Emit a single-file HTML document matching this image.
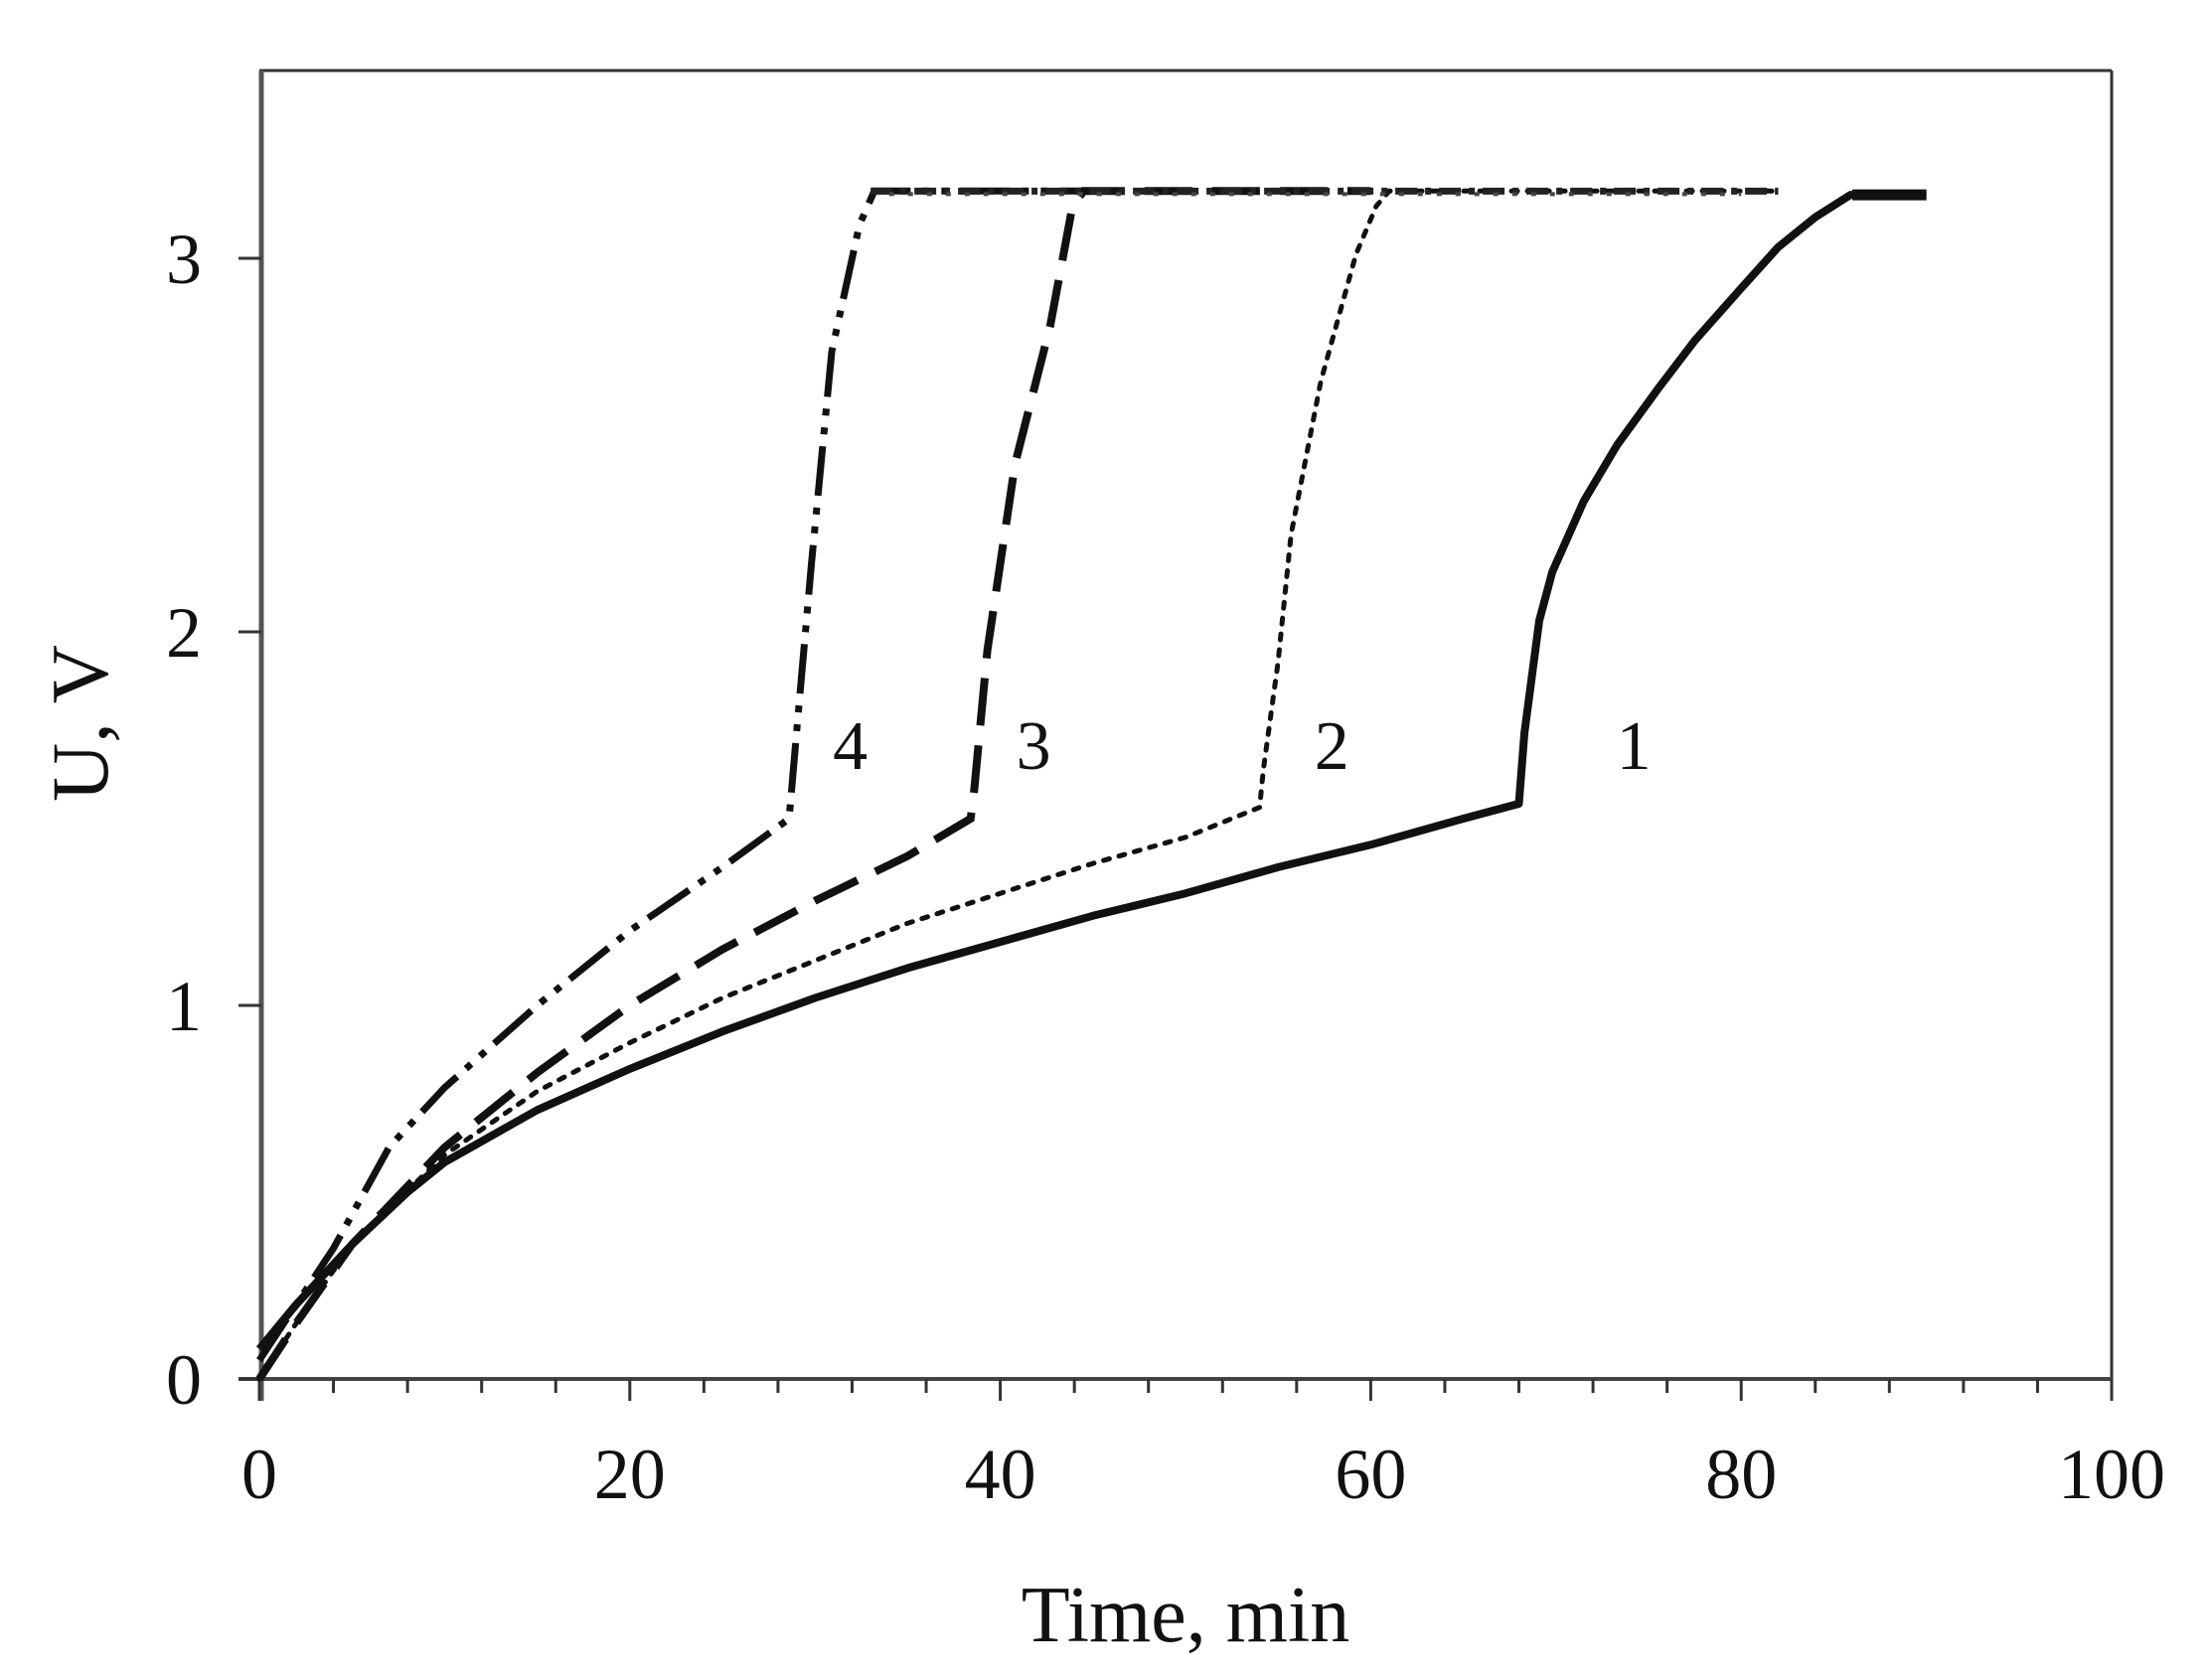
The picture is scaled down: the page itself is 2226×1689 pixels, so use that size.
<!DOCTYPE html>
<html><head><meta charset="utf-8"><style>
html,body{margin:0;padding:0;background:#fff;}
svg{display:block;}
text{font-family:"Liberation Serif",serif;fill:#111;}
</style></head><body>
<svg id="s" width="2226" height="1689" viewBox="0 0 2226 1689" xmlns="http://www.w3.org/2000/svg">
<rect width="2226" height="1689" fill="#fff"/>
<g id="g"></g>
<text x="0" y="0" font-size="82" text-anchor="middle" transform="translate(108,728) rotate(-90)">U, V</text>
<text x="1193" y="1652" font-size="80" text-anchor="middle">Time, min</text>
</svg>
<script>
var X=function(x){return 261+18.64*x}, Y=function(y){return 1388-376*y};
var g=document.getElementById('g'), h='';
h+='<line x1="261" y1="71" x2="2125" y2="71" stroke="#333" stroke-width="3"/>';
h+='<line x1="2125" y1="71" x2="2125" y2="1388" stroke="#333" stroke-width="3"/>';
h+='<line x1="263" y1="71" x2="263" y2="1410" stroke="#555" stroke-width="5"/>';
h+='<line x1="240" y1="1388" x2="2125" y2="1388" stroke="#444" stroke-width="4"/>';
for(var i=0;i<=3;i++){h+='<line x1="240" x2="263" y1="'+Y(i)+'" y2="'+Y(i)+'" stroke="#333" stroke-width="3"/>';
 h+='<text x="203" y="'+(Y(i)+25)+'" font-size="72" text-anchor="end">'+i+'</text>';}
for(var t=0;t<=100;t+=4){var maj=(t%20==0);h+='<line x1="'+X(t)+'" x2="'+X(t)+'" y1="1388" y2="'+(maj?1410:1402)+'" stroke="#333" stroke-width="3"/>';}
for(var t=0;t<=100;t+=20){h+='<text x="'+X(t)+'" y="1508" font-size="72" text-anchor="middle">'+t+'</text>';}
function P(a){return a.map(function(p){return X(p[0]).toFixed(1)+','+Y(p[1]).toFixed(1)}).join(' ')}
var c1=[[0,0.08],[2,0.2],[5,0.36],[8,0.5],[10,0.58],[15,0.72],[20,0.83],[25,0.93],[30,1.02],[35,1.1],[40,1.17],[45,1.24],[50,1.3],[55,1.37],[60,1.43],[65,1.5],[68,1.54],[68.3,1.73],[69.1,2.03],[69.8,2.16],[71.5,2.35],[73.3,2.5],[75.5,2.65],[77.5,2.78],[80,2.92],[82,3.03],[84,3.11],[85.9,3.17],[90,3.17]];
var c2=[[0,0],[2,0.15],[5,0.36],[10,0.6],[15,0.77],[20,0.9],[25,1.02],[30,1.12],[35,1.22],[40,1.3],[45,1.38],[50,1.45],[54,1.53],[54.2,1.63],[55,1.92],[55.7,2.26],[57.3,2.67],[59.2,3.01],[60.3,3.14],[61,3.18],[82,3.18]];
var c3=[[0,0],[2,0.15],[5,0.36],[10,0.62],[15,0.82],[20,1.0],[25,1.15],[30,1.28],[35,1.4],[38.4,1.5],[38.6,1.58],[39.3,1.95],[40.8,2.45],[42.7,2.82],[43.9,3.14],[44.5,3.18],[60,3.18]];
var c4=[[0,0.05],[2,0.2],[4,0.35],[7,0.62],[10,0.78],[15,1.0],[20,1.2],[25,1.37],[28.6,1.5],[29,1.73],[29.8,2.18],[30.9,2.75],[32.4,3.09],[33.2,3.18],[45,3.18]];
h+='<polyline points="'+P(c2)+'" fill="none" stroke="#111" stroke-width="5" stroke-dasharray="6 10" stroke-linecap="round"/>';
h+='<polyline points="'+P(c3)+'" fill="none" stroke="#111" stroke-width="8" stroke-dasharray="48 20"/>';
h+='<polyline points="'+P(c4)+'" fill="none" stroke="#111" stroke-width="7" stroke-dasharray="50 12 7 12 7 12"/>';
h+='<polyline points="'+P(c1)+'" fill="none" stroke="#111" stroke-width="8" stroke-linejoin="round"/>';
h+='<line x1="'+X(33)+'" x2="'+X(82)+'" y1="'+Y(3.18)+'" y2="'+Y(3.18)+'" stroke="#222" stroke-width="7" stroke-dasharray="22 8 6 8"/>';
h+='<line x1="'+X(34)+'" x2="'+X(80)+'" y1="'+(Y(3.18)+3)+'" y2="'+(Y(3.18)+3)+'" stroke="#444" stroke-width="4" stroke-dasharray="5 14"/>';
h+='<line x1="'+X(86)+'" x2="'+X(90)+'" y1="'+Y(3.17)+'" y2="'+Y(3.17)+'" stroke="#111" stroke-width="11"/>';
var L=[['4',31.9],['3',41.8],['2',57.9],['1',74.2]];
L.forEach(function(l){h+='<text x="'+X(l[1])+'" y="'+(Y(1.7)+25)+'" font-size="70" text-anchor="middle">'+l[0]+'</text>';});
g.innerHTML=h;
</script>
</body></html>
